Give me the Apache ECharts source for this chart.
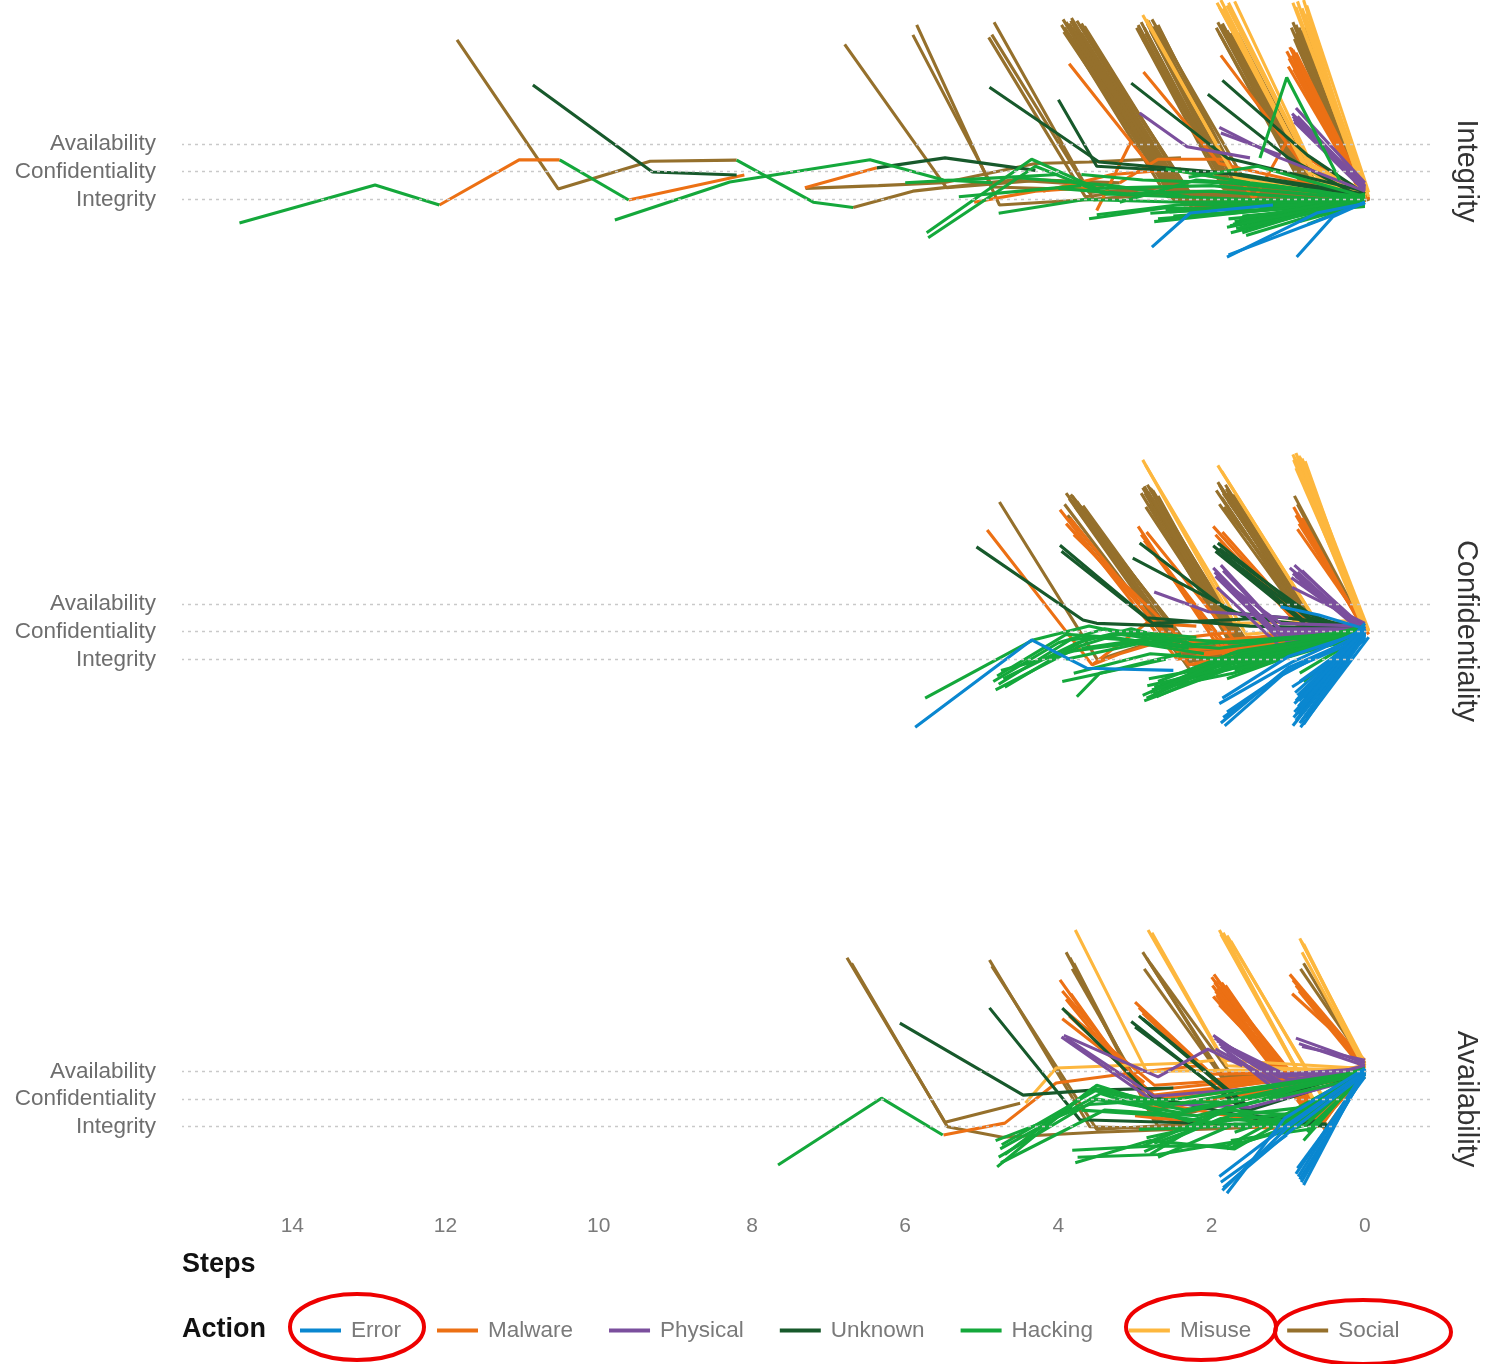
<!DOCTYPE html>
<html><head><meta charset="utf-8">
<script src="https://cdn.jsdelivr.net/npm/echarts@6/dist/echarts.min.js"></script>
<style>html,body{margin:0;padding:0;background:#fff}#c{width:1498px;height:1364px}</style>
</head><body><div id="c"></div>
<script>
// ---------- labels ----------
const stepTicks = [0, 2, 4, 6, 8, 10, 12, 14];
const levelValues = [1, 2, 3];
const levelLabels = ['Integrity', 'Confidentiality', 'Availability'];
const panelTitles = ['Integrity', 'Confidentiality', 'Availability'];
const actions = ['Error', 'Malware', 'Physical', 'Unknown', 'Hacking', 'Misuse', 'Social'];

// ---------- data: each path = [step, value, step, value, ...] ----------
// Panel: Integrity
const intSocial = [
 [11.85,6.76, 10.53,1.38, 9.33,2.38, 8.2,2.42],
 [7.3,1.4, 6.35,1.5, 5.5,1.6, 4.3,2.3, 3.6,2.35, 2.4,2.5],
 [6.68,0.71, 5.9,1.3, 4.6,1.7, 3.4,1.5],
 [6.79,6.6, 5.46,1.42, 4.2,1.7, 3.2,1.6],
 [5.85,7.3, 4.77,0.8, 3.6,1.0, 2.6,1.2],
 [5.9,6.94, 4.86,1.45, 3.46,1.34],
 [4.84,7.4, 3.54,0.98, 2.5,1.3],
 [4.91,6.85, 3.65,1.1, 2.6,1.45],
 [4.87,6.95, 3.6,1.25, 2.3,1.5],
 [3.94,7.5, 2.55,1.2, 1.2,1.3, 0,1.0],
 [3.9,7.4, 2.5,1.1, 1.3,1.2, 0,1.05],
 [3.86,7.35, 2.45,0.95, 0,0.95],
 [3.82,7.2, 2.4,0.9, 0,1.1],
 [3.78,7.3, 2.36,0.8, 0,0.9],
 [3.74,7.1, 2.3,0.85, 0,1.0],
 [3.7,7.0, 2.26,0.7, 0,0.85],
 [3.66,7.25, 2.2,0.75, 0,1.15],
 [3.88,7.0, 2.45,1.3, 0,1.2],
 [3.8,6.9, 2.35,1.0, 0,0.8],
 [3.76,7.45, 2.32,1.05, 0,1.0],
 [3.72,6.8, 2.28,0.9, 0,0.95],
 [3.92,7.2, 2.5,1.0, 0,1.05],
 [3.84,7.45, 2.42,1.15, 0,0.9],
 [3.68,7.15, 2.22,0.95, 0,1.1],
 [3.74,6.95, 2.34,1.2, 0,1.0],
 [3.96,7.3, 2.58,1.1, 0,1.0],
 [3.93,7.05, 2.52,1.25, 0,1.1],
 [3.83,7.55, 2.38,0.85, 0,0.95],
 [3.79,7.05, 2.37,1.1, 0,1.05],
 [3.7,7.35, 2.24,0.9, 0,1.0],
 [3.64,7.0, 2.18,0.8, 0,0.9],
 [2.96,7.3, 1.83,1.5, 0,1.1],
 [2.92,7.4, 1.8,1.4, 0,1.0],
 [2.88,7.2, 1.75,1.3, 0,1.15],
 [2.84,7.35, 1.72,1.2, 0,0.95],
 [2.8,7.1, 1.68,1.1, 0,1.05],
 [2.76,7.25, 1.65,1.0, 0,0.9],
 [2.72,7.0, 1.6,1.05, 0,1.2],
 [2.68,6.9, 1.57,0.95, 0,1.0],
 [2.78,7.5, 1.5,1.35, 0,1.1],
 [2.9,6.8, 1.7,1.25, 0,1.0],
 [2.94,7.1, 1.78,1.35, 0,1.05],
 [2.86,7.0, 1.74,1.15, 0,0.95],
 [2.74,7.15, 1.62,1.25, 0,1.1],
 [2.7,7.3, 1.59,1.1, 0,1.0],
 [2.98,7.2, 1.85,1.4, 0,1.05],
 [2.83,7.45, 1.7,1.3, 0,1.0],
 [2.73,6.85, 1.58,1.0, 0,1.1],
 [2.66,7.05, 1.55,1.15, 0,0.95],
 [1.92,7.4, 0.8,1.6, 0,1.0],
 [1.88,7.3, 0.78,1.4, 0,0.9],
 [1.84,7.2, 0.75,1.7, 0,1.1],
 [1.8,7.1, 0.7,1.5, 0,1.0],
 [1.76,7.0, 0.68,1.3, 0,0.95],
 [1.72,6.9, 0.65,1.45, 0,1.05],
 [1.68,6.8, 0.62,1.2, 0,1.0],
 [1.64,6.7, 0.6,1.35, 0,1.1],
 [1.9,7.0, 0.79,1.5, 0,1.05],
 [1.82,6.95, 0.72,1.25, 0,0.95],
 [1.74,7.25, 0.66,1.55, 0,1.0],
 [1.66,7.0, 0.61,1.4, 0,1.1],
 [1.94,7.2, 0.82,1.5, 0,1.0],
 [1.86,7.35, 0.77,1.6, 0,1.05],
 [1.78,6.85, 0.69,1.35, 0,1.0],
 [1.7,7.1, 0.64,1.5, 0,1.1],
 [0.94,7.4, 0,1.1],
 [0.9,7.3, 0,1.0],
 [0.86,7.2, -0.05,0.95],
 [0.84,7.0, 0,1.15],
 [0.8,6.9, 0,1.05],
 [0.92,6.8, 0,0.9],
 [0.88,6.6, 0,1.0],
 [0.82,7.1, 0,1.2],
 [0.96,7.2, 0,1.05],
 [0.9,7.0, 0,0.95],
 [0.86,6.8, 0,1.1],
 [0.78,7.2, -0.05,1.0]
];
const intMisuse = [
 [2.9,7.66, 1.65,1.6, 0,1.1],
 [2.85,7.5, 1.7,1.8, 0,1.0],
 [1.93,8.1, 0.8,2.4, 0,1.3],
 [1.88,8.2, 0.75,2.0, 0,1.2],
 [1.85,7.9, 0.7,1.8, 0,1.0],
 [1.8,8.0, 0.72,2.2, 0,1.15],
 [1.75,7.8, 0.65,1.9, 0,1.05],
 [1.7,8.15, 0.6,1.7, 0,1.1],
 [1.9,7.95, 0.77,2.1, 0,1.2],
 [1.78,8.1, 0.68,2.0, 0,1.1],
 [0.94,8.1, 0,1.3],
 [0.88,8.15, 0,1.2],
 [0.82,7.9, -0.05,1.1],
 [0.78,7.7, 0,1.0],
 [0.76,8.0, -0.05,1.25],
 [0.9,7.95, 0,1.15],
 [0.8,8.2, 0,1.05]
];
const intMalware = [
 [12.08,0.8, 11.04,2.43, 10.51,2.43],
 [9.61,0.98, 8.1,1.88],
 [7.31,1.42, 6.37,2.14],
 [5.1,0.9, 4.3,1.3, 3.5,1.45],
 [4.2,1.3, 3.3,1.9, 2.4,2.1],
 [3.86,5.9, 2.8,2.2, 1.5,1.6, 0,1.0],
 [2.89,5.6, 1.9,2.3, 0,1.1],
 [1.88,6.2, 0.85,2.4, 0,1.0],
 [3.2,1.6, 2.7,2.45, 1.8,2.45, 1.45,1.0, 1.03,3.05, 0,1.1],
 [3.5,0.6, 3.05,3.1],
 [1.02,6.35, 0,1.0],
 [0.98,6.5, 0,1.1],
 [0.95,6.2, 0,0.95],
 [0.92,6.0, 0,1.05],
 [0.9,6.3, -0.05,1.0],
 [0.86,5.9, 0,0.9],
 [1.0,5.8, 0,1.1],
 [0.88,6.1, 0,1.2],
 [0.96,6.45, 0,1.0],
 [0.93,5.7, 0,1.05],
 [0.99,6.1, 0,1.0],
 [0.94,6.4, 0,1.1],
 [0.91,5.85, 0,0.95]
];
const intPhysical = [
 [0.95,4.1, 0,1.5],
 [0.93,3.9, 0,1.4],
 [0.9,4.3, 0,1.6],
 [0.92,3.8, 0,1.3],
 [0.88,4.0, 0,1.45],
 [0.94,4.0, 0,1.45],
 [0.91,3.85, 0,1.35],
 [2.94,4.12, 2.32,2.9, 1.5,2.5],
 [1.9,3.6, 1.11,2.5, 0,1.3],
 [1.88,3.4, 1.1,2.6]
];
const intUnknown = [
 [10.86,5.13, 9.3,1.99, 8.2,1.88],
 [6.37,2.14, 5.48,2.5, 4.3,2.05],
 [4.9,5.05, 3.47,2.35, 1.8,1.95, 0,1.1],
 [4.0,4.6, 3.5,2.2, 1.6,1.9, 0,1.2],
 [3.05,5.2, 1.8,2.5, 0,1.3],
 [2.05,4.8, 1.0,2.5, 0,1.0],
 [1.86,5.3, 0.75,2.6, 0,1.2]
];
const intHacking = [
 [14.69,0.15, 12.92,1.52, 12.08,0.8],
 [10.51,2.43, 9.61,0.98],
 [9.79,0.26, 8.29,1.63, 6.46,2.43, 5.5,1.7, 4.86,1.6],
 [8.2,2.42, 7.2,0.9, 6.68,0.71],
 [6.0,1.6, 5.0,1.75, 4.0,1.9],
 [5.3,1.1, 4.5,1.3, 3.7,1.5],
 [5.72,-0.2, 4.35,2.45, 3.5,1.4, 2.0,1.5, 0,1.0],
 [5.7,-0.38, 4.3,2.2, 3.4,1.2, 1.5,1.0, 0,0.95],
 [4.78,0.5, 3.66,1.0, 2.4,0.9, 0,1.0],
 [3.7,1.9, 2.9,1.7, 1.8,1.6, 0,1.1],
 [4.0,1.4, 3.1,1.2, 2.0,1.3, 0,0.9],
 [3.2,0.9, 2.2,1.7, 1.2,1.5, 0,1.0],
 [4.6,1.8, 3.3,1.5, 2.3,1.1],
 [2.6,2.1, 1.5,1.6, 0.6,1.3, 0,1.0],
 [2.3,1.8, 1.4,2.2, 0,1.1],
 [1.37,2.5, 1.02,5.4, 0.33,1.7],
 [3.6,0.3, 2.6,0.7, 1.5,0.6, 0,1.0],
 [3.5,0.45, 2.45,0.8, 0,0.9],
 [2.8,0.5, 0,1.0],
 [2.7,0.3, 0,0.9],
 [2.6,0.6, 0,1.05],
 [2.5,0.4, 0,0.85],
 [2.75,0.2, 0,1.0],
 [2.55,0.55, 0,0.95],
 [1.8,0.0, 0,0.95],
 [1.75,-0.2, 0,1.0],
 [1.7,0.2, 0,0.9],
 [1.65,-0.1, 0,1.1],
 [1.6,0.4, 0,0.8],
 [1.55,-0.3, 0,1.0],
 [1.72,0.1, 0,1.2],
 [1.78,0.3, 0,0.75],
 [1.62,0.0, 0,0.95],
 [1.58,0.2, 0,1.05],
 [1.76,0.05, 0,1.0],
 [1.68,-0.05, 0,0.9],
 [1.64,0.3, 0,1.05],
 [1.6,-0.2, 0,1.15],
 [0.8,0.3, 0,1.0],
 [0.75,0.1, 0,0.9],
 [0.7,0.5, 0,1.1],
 [0.85,0.2, 0,0.85]
];
const intError = [
 [2.78,-0.72, 2.28,0.51, 1.2,0.8],
 [1.8,-1.08, 0.63,0.51, 0,0.85],
 [1.78,-1.0, 0.35,0.5, 0,0.9],
 [0.89,-1.08, 0.42,0.37, 0,0.9]
];

// Panel: Confidentiality
const confSocial = [
 [4.77,6.68, 3.49,0.98, 2.8,1.6, 1.8,1.3],
 [3.9,7.0, 2.4,1.2, 1.2,1.6, 0,2.0],
 [3.86,6.8, 2.35,0.9, 0,1.9],
 [3.82,6.9, 2.3,1.4, 0,2.1],
 [3.78,6.5, 2.25,0.8, 0,1.8],
 [3.74,6.6, 2.2,1.1, 0,2.0],
 [3.7,6.3, 2.28,0.6, 0,2.2],
 [3.88,6.2, 2.38,1.0, 0,2.0],
 [3.84,6.95, 2.33,1.05, 0,2.0],
 [3.76,6.7, 2.27,0.95, 0,1.9],
 [3.72,6.45, 2.24,1.3, 0,2.1],
 [3.92,6.6, 2.42,1.1, 0,2.0],
 [3.8,6.75, 2.3,1.0, 0,2.05],
 [3.68,6.55, 2.2,0.9, 0,1.95],
 [2.9,7.2, 1.6,1.2, 0,2.0],
 [2.87,7.0, 1.58,1.0, 0,2.1],
 [2.84,7.3, 1.56,1.5, 0,1.9],
 [2.8,6.9, 1.54,0.7, 0,2.0],
 [2.77,7.1, 1.52,1.3, 0,2.2],
 [2.74,6.7, 1.5,0.9, 0,1.8],
 [2.82,6.6, 1.55,0.6, 0,2.0],
 [2.78,6.8, 1.53,1.6, 0,2.1],
 [2.86,6.5, 1.57,1.1, 0,2.0],
 [2.88,7.25, 1.59,1.3, 0,2.05],
 [2.83,7.05, 1.56,0.8, 0,1.95],
 [2.79,7.15, 1.54,1.0, 0,2.1],
 [2.75,6.9, 1.51,1.4, 0,2.0],
 [2.72,6.6, 1.5,1.15, 0,1.9],
 [2.92,7.0, 1.62,1.1, 0,2.0],
 [2.81,7.2, 1.55,1.2, 0,2.05],
 [2.76,6.75, 1.52,1.05, 0,1.95],
 [2.7,6.9, 1.49,0.8, 0,2.0],
 [1.92,7.4, 0.65,2.0, 0,2.0],
 [1.88,7.2, 0.62,1.8, 0,2.1],
 [1.85,7.0, 0.6,1.9, 0,1.9],
 [1.82,7.3, 0.58,1.7, 0,2.0],
 [1.79,6.8, 0.55,1.6, 0,2.2],
 [1.76,6.9, 0.52,1.85, 0,2.0],
 [1.9,6.6, 0.63,1.75, 0,1.9],
 [1.84,6.5, 0.57,1.95, 0,2.1],
 [1.9,7.3, 0.64,1.9, 0,2.05],
 [1.86,7.1, 0.6,1.8, 0,1.95],
 [1.8,7.0, 0.56,1.7, 0,2.1],
 [1.78,6.7, 0.54,1.9, 0,2.0],
 [1.74,6.8, 0.5,1.8, 0,2.0],
 [1.94,7.1, 0.66,1.85, 0,2.0],
 [1.87,6.85, 0.61,1.7, 0,2.05],
 [1.81,7.15, 0.57,1.9, 0,1.95],
 [1.72,6.95, 0.5,1.75, 0,2.0],
 [0.92,6.9, 0,2.1],
 [0.88,6.6, 0,2.0]
];
const confMisuse = [
 [2.9,8.2, 1.7,2.3, 0,2.4],
 [2.86,8.0, 1.55,1.9, 0,2.3],
 [1.92,8.0, 0.6,2.2, 0,2.2],
 [1.87,7.8, 0.55,2.0, 0,2.1],
 [0.94,8.4, 0,2.3],
 [0.92,8.3, 0,2.2],
 [0.9,8.45, 0,2.1],
 [0.88,8.2, -0.05,2.0],
 [0.86,8.35, 0,2.25],
 [0.84,8.1, 0,2.15],
 [0.82,8.25, -0.05,2.05],
 [0.8,8.0, 0,2.3],
 [0.78,8.15, 0,2.1],
 [0.9,7.9, 0,2.2],
 [0.86,7.8, 0,2.0],
 [0.93,8.2, 0,2.2],
 [0.89,8.1, 0,2.15],
 [0.85,8.3, 0,2.25],
 [0.81,8.05, 0,2.1],
 [0.79,7.9, 0,2.0]
];
const confMalware = [
 [4.93,5.67, 3.56,0.8, 3.2,1.2],
 [3.56,0.8, 2.85,2.3, 2.2,2.2],
 [3.98,6.4, 2.45,1.0, 0,2.0],
 [3.9,5.9, 2.4,1.3, 0,1.9],
 [3.8,5.5, 2.35,1.6, 0,2.1],
 [3.85,6.1, 2.3,0.8, 0,2.0],
 [2.96,5.8, 1.8,1.0, 0,2.0],
 [2.92,5.5, 1.75,1.3, 0,1.9],
 [2.88,5.3, 1.7,0.9, 0,2.1],
 [2.85,5.6, 1.68,1.6, 0,2.0],
 [1.98,5.8, 0.65,1.7, 0,2.0],
 [1.95,5.5, 0.62,1.5, 0,1.9],
 [1.9,5.2, 0.6,1.9, 0,2.1],
 [1.86,5.6, 0.58,1.6, 0,2.0],
 [1.82,5.0, 0.55,1.8, 0,2.0],
 [0.93,6.5, 0,2.0],
 [0.9,6.2, 0,2.1],
 [0.86,5.9, -0.05,1.9],
 [0.82,6.1, 0,2.0],
 [0.88,5.7, 0,2.2],
 [2.5,1.4, 1.5,1.8, 0.7,1.6, 0,2.0],
 [2.2,1.2, 1.3,1.5, 0,1.9],
 [1.6,1.6, 0.6,2.4, 0,2.0],
 [3.2,1.2, 2.6,1.7, 1.7,2.0]
];
const confPhysical = [
 [2.75,3.43, 2.04,2.72, 1.0,2.5],
 [1.98,4.3, 1.2,2.1, 0,2.1],
 [1.95,4.0, 1.15,1.8, 0,2.0],
 [1.9,3.9, 1.1,2.3, 0,2.2],
 [1.85,4.2, 1.05,1.9, 0,1.9],
 [1.8,3.7, 1.0,1.6, 0,2.0],
 [1.93,3.6, 1.12,1.5, 0,2.1],
 [1.88,4.4, 1.08,2.0, 0,2.0],
 [1.96,4.15, 1.17,1.95, 0,2.05],
 [1.87,3.8, 1.06,1.75, 0,2.0],
 [0.98,4.3, 0,2.0],
 [0.94,4.1, 0,2.1],
 [0.9,4.0, 0,1.9],
 [0.86,3.8, 0,2.2],
 [0.82,4.2, 0,2.0],
 [0.95,3.6, 0,2.3],
 [0.92,4.4, 0,2.1],
 [0.96,3.95, 0,2.05],
 [0.88,4.15, 0,1.95],
 [0.84,3.9, 0,2.1]
];
const confUnknown = [
 [5.07,5.06, 3.68,2.42, 3.5,2.3, 2.5,2.2],
 [3.98,5.12, 2.85,2.5, 1.5,2.2, 0,2.1],
 [3.96,4.9, 2.77,2.3, 1.2,2.5],
 [2.94,5.2, 1.76,2.7, 0,2.2],
 [3.03,4.65, 1.55,2.5, 0,2.0],
 [1.98,5.1, 0.8,2.4, 0,2.0],
 [1.95,4.9, 0.75,2.2, 0,2.1],
 [1.9,5.0, 0.7,2.6, 0,1.9],
 [1.86,4.8, 0.65,2.3, 0,2.0],
 [1.92,5.2, 0.72,2.5, 0,2.05]
];
const confHacking = [
 [5.74,-0.4, 4.33,1.7, 3.6,2.2, 2.4,1.5, 0,2.0],
 [4.85,0.2, 4.0,1.6, 3.4,2.1, 2.4,1.7],
 [4.8,0.4, 3.9,1.9, 3.3,1.8, 2.3,1.4],
 [4.82,-0.1, 3.7,1.5, 3.1,2.0, 2.2,1.8],
 [4.75,0.6, 3.8,1.3, 3.0,1.6, 2.1,1.2],
 [4.7,0.0, 3.6,1.8, 2.6,1.6],
 [4.78,0.1, 3.85,1.7, 3.2,1.9, 2.3,1.6],
 [4.72,0.3, 3.75,1.6, 3.05,2.1, 2.2,1.5],
 [3.76,-0.35, 3.46,0.5, 2.4,1.2],
 [2.85,-0.4, 1.8,0.9, 0,1.9],
 [2.8,-0.2, 1.75,1.2, 0,2.0],
 [2.75,0.0, 1.7,0.7, 0,1.8],
 [2.9,-0.3, 1.85,1.0, 0,2.1],
 [2.7,0.2, 1.65,1.3, 0,2.0],
 [2.78,-0.1, 1.72,0.5, 0,1.9],
 [2.65,0.1, 1.6,1.1, 0,2.2],
 [2.82,0.3, 1.8,0.8, 0,1.8],
 [2.88,-0.5, 1.82,0.6, 0,2.0],
 [2.72,-0.35, 1.68,0.9, 0,1.9],
 [2.76,-0.25, 1.7,1.0, 0,2.0],
 [2.84,0.05, 1.78,0.7, 0,1.9],
 [2.68,-0.05, 1.62,1.2, 0,2.1],
 [3.8,0.5, 2.8,1.2, 1.8,1.0, 0,2.0],
 [3.9,1.0, 2.9,1.6, 1.9,1.4, 0,2.1],
 [3.7,1.4, 2.7,1.8, 1.7,1.6, 0,1.9],
 [3.95,0.2, 2.6,1.0],
 [1.8,0.3, 0.9,1.2, 0,2.0],
 [1.7,0.6, 0.8,1.4, 0,1.9],
 [0.8,0.2, 0,2.0],
 [0.85,0.5, 0,1.9],
 [0.75,0.0, 0,2.1]
];
const confError = [
 [5.87,-1.45, 4.35,1.7, 4.09,1.33, 3.63,0.68, 2.5,0.6],
 [1.1,2.9, 0.6,2.6, 0,2.1],
 [1.88,-1.3, 1.0,0.7, 0,1.9],
 [1.85,-1.1, 1.1,0.4, 0,2.0],
 [1.8,-0.9, 1.0,0.6, 0,1.8],
 [1.9,-0.6, 0.95,0.9, 0,2.1],
 [1.83,-1.4, 1.05,0.5],
 [1.86,-0.4, 1.0,1.1, 0,2.0],
 [0.94,-1.4, 0,1.9],
 [0.9,-1.2, 0,2.0],
 [0.86,-1.0, 0,1.8],
 [0.82,-0.8, 0,2.1],
 [0.92,-0.6, 0,1.9],
 [0.88,-0.3, 0,2.0],
 [0.84,-1.45, -0.05,1.8],
 [0.8,-0.4, 0,2.2],
 [0.95,0.0, 0,1.7],
 [0.78,-1.1, 0,2.0],
 [0.9,-0.5, 0,2.3],
 [0.85,0.2, 0,1.9],
 [0.92,-0.9, 0,1.85],
 [0.87,-0.7, 0,2.05],
 [0.83,-1.25, 0,1.95],
 [0.79,-0.6, 0,2.1],
 [0.93,-1.1, 0,1.95],
 [0.89,-0.85, 0,2.0],
 [0.85,-1.3, 0,1.9],
 [0.81,-0.95, 0,2.05],
 [0.91,-0.2, 0,2.0],
 [0.86,-0.5, 0,2.1],
 [0.8,-1.35, 0,1.85]
];

// Panel: Availability
const availSocial = [
 [6.76,7.1, 5.48,1.16, 4.5,1.85],
 [6.7,6.9, 5.45,1.0, 4.73,0.62, 3.5,0.8, 2.5,0.9],
 [4.9,7.02, 3.59,1.0, 2.2,0.9, 1.2,1.0],
 [4.87,6.8, 3.5,0.9, 2.3,1.1],
 [3.9,7.3, 2.8,1.6, 0,2.9],
 [3.85,7.1, 2.75,1.2, 0,3.0],
 [3.8,6.9, 2.7,1.0, 2.0,1.0],
 [3.82,6.7, 2.72,1.4],
 [2.9,7.3, 1.85,2.8, 0,3.0],
 [2.85,7.1, 1.8,2.5, 0,3.1],
 [2.8,6.9, 1.75,2.9],
 [2.88,6.7, 1.82,2.6],
 [0.8,6.9, 0,3.2],
 [0.84,6.7, 0,3.3]
];
const availMisuse = [
 [4.43,1.86, 4.03,3.12, 2.31,3.3, 1.97,3.4],
 [3.78,8.1, 2.85,3.0, 0,3.1],
 [2.83,8.1, 1.85,3.4, 0,3.1],
 [2.78,8.0, 1.8,3.2, 0,3.0],
 [1.9,8.1, 0.65,1.9, 0,3.0],
 [1.85,8.0, 0.6,1.6, 0,3.1],
 [1.8,7.9, 0.55,2.1, 0,2.9],
 [1.75,7.7, 0.5,1.8],
 [1.88,7.95, 0.62,1.7, 0,3.05],
 [0.85,7.8, 0,3.3],
 [0.8,7.6, 0,3.2],
 [0.82,7.3, 0,3.1],
 [0.83,7.7, 0,3.2]
];
const availMalware = [
 [5.5,0.7, 4.7,1.13, 4.03,2.58, 3.03,2.95, 2.17,3.2],
 [3.98,6.3, 2.9,2.1, 0,3.0],
 [3.95,5.9, 2.85,2.3, 0,3.1],
 [3.9,5.6, 2.8,1.9, 0,2.9],
 [3.92,5.2, 2.75,2.5, 0,3.0],
 [3.86,5.0, 2.7,2.0, 0,3.2],
 [3.84,5.8, 2.78,1.7, 0,2.8],
 [3.95,4.9, 2.88,2.6],
 [3.0,5.5, 2.0,2.9, 0,3.0],
 [2.95,5.3, 1.95,2.7, 0,3.1],
 [2.9,5.1, 1.9,2.5, 0,2.9],
 [2.0,6.4, 0.7,1.5, 0,3.0],
 [1.96,6.2, 0.65,1.2, 0,3.1],
 [1.92,6.0, 0.62,1.0, 0,2.9],
 [1.88,5.8, 0.6,1.4, 0,3.0],
 [1.85,5.6, 0.55,1.1, 0,3.2],
 [1.9,5.4, 0.58,1.6, 0,2.8],
 [1.95,5.9, 0.66,1.3, 0,3.0],
 [1.82,6.1, 0.52,0.9, 0,2.9],
 [1.98,5.7, 0.7,1.8, 0,3.1],
 [1.93,6.3, 0.6,1.7, 0,3.0],
 [1.87,6.2, 0.63,1.25, 0,3.05],
 [1.91,5.5, 0.57,1.45, 0,2.95],
 [1.99,6.1, 0.68,1.35, 0,3.0],
 [1.94,5.75, 0.64,1.1, 0,3.05],
 [1.89,6.05, 0.59,1.5, 0,2.95],
 [1.84,5.5, 0.54,1.2, 0,3.1],
 [1.97,6.5, 0.69,1.65, 0,3.0],
 [0.98,6.5, 0,3.3],
 [0.94,6.3, 0,3.2],
 [0.9,6.1, 0,3.1],
 [0.86,5.9, 0,3.0],
 [0.95,5.8, 0,3.4],
 [3.0,1.4, 2.0,1.1, 1.0,0.9, 0,2.9],
 [2.6,1.8, 1.6,1.3, 0.5,1.1]
];
const availPhysical = [
 [3.96,4.24, 2.72,1.85, 1.5,1.7, 0,2.8],
 [3.9,4.2, 2.75,2.1, 1.4,2.4, 0,3.0],
 [3.93,4.3, 2.7,2.8, 2.05,3.8, 1.6,3.2],
 [1.98,4.3, 1.1,2.6, 0,3.0],
 [1.93,4.1, 1.05,2.9, 0,3.1],
 [1.88,3.9, 1.15,2.3, 0,2.9],
 [1.85,4.0, 1.0,2.7, 0,3.0],
 [1.8,3.7, 1.1,2.4],
 [1.95,3.8, 1.08,2.5, 0,3.2],
 [1.96,4.2, 1.12,2.8, 0,3.05],
 [1.9,4.0, 1.03,2.5, 0,3.1],
 [0.9,4.2, 0,3.3],
 [0.86,4.0, 0,3.2],
 [0.82,3.9, 0,3.4]
];
const availUnknown = [
 [6.07,4.74, 4.46,2.14, 3.55,2.32, 2.5,2.4],
 [4.9,5.29, 3.72,1.25, 1.8,1.1, 0.45,1.05],
 [3.95,5.28, 2.77,2.07, 1.6,1.4, 0.5,1.0],
 [3.05,4.8, 1.4,1.2, 0.5,1.1],
 [3.0,4.6, 1.45,1.4, 0.6,1.2],
 [2.95,5.0, 1.5,1.6, 0,2.9],
 [2.9,4.9, 1.55,1.8, 0,3.0]
];
const availHacking = [
 [7.66,-0.38, 6.31,2.03, 5.51,0.7],
 [4.8,-0.45, 3.55,2.4, 2.5,1.8, 0,3.0],
 [4.78,-0.1, 3.5,2.0, 2.4,1.5, 0,2.9],
 [4.76,0.2, 3.45,2.2, 2.3,1.2, 0,3.1],
 [4.82,0.5, 3.6,1.8, 2.45,2.0, 0,3.0],
 [4.75,-0.3, 3.4,1.6, 2.2,1.4, 0,2.8],
 [4.7,0.0, 3.5,2.5, 2.6,1.7],
 [4.74,0.35, 3.52,2.3, 2.35,1.6, 0,3.0],
 [3.82,0.15, 2.8,0.3, 1.8,0.3, 0,3.0],
 [3.78,-0.3, 2.8,0.5, 1.7,0.2, 0,2.9],
 [3.75,-0.1, 2.7,0.0, 1.6,0.5],
 [3.7,1.6, 2.6,1.4, 1.6,1.0, 0.7,1.3, 0,3.0],
 [3.6,2.0, 2.9,1.8, 1.9,1.9],
 [2.9,0.3, 1.9,1.5, 1.0,1.2, 0,3.0],
 [2.85,0.6, 1.85,1.2, 0.9,1.5, 0,2.9],
 [2.8,0.0, 1.8,1.7, 0.95,0.9, 0,3.1],
 [2.95,0.9, 1.95,1.0, 0.85,1.3, 0,2.8],
 [2.75,0.4, 1.75,1.4, 0.8,1.7, 0,3.0],
 [2.7,-0.1, 1.7,1.1, 0.9,1.0],
 [2.88,0.1, 1.88,1.3, 0.95,1.1, 0,3.0],
 [2.78,0.5, 1.78,1.6, 0.85,1.4, 0,3.05],
 [1.8,0.2, 0.8,1.2, 0,3.0],
 [1.75,0.5, 0.75,0.9, 0,2.9],
 [1.7,0.8, 0.85,1.6, 0,3.1],
 [1.72,0.35, 0.78,1.05, 0,3.0],
 [0.8,0.5, 0,3.0],
 [0.75,0.8, 0,2.9],
 [0.85,1.1, 0,3.1]
];
const availError = [
 [1.9,-0.8, 1.0,1.1, 0,3.0],
 [1.85,-1.2, 0.95,0.9, 0,2.9],
 [1.8,-1.4, 1.05,1.3, 0,3.1],
 [1.88,-1.0, 1.02,0.7],
 [1.86,-1.3, 1.0,1.0, 0,3.0],
 [0.9,-0.7, 0,3.0],
 [0.85,-0.9, 0,2.9],
 [0.8,-1.1, 0,3.1],
 [0.88,-0.5, 0,2.8],
 [0.87,-0.8, 0,3.05],
 [0.83,-1.0, 0,2.95]
];

// ---------- build ----------
const actionColors = {
  Error: '#0a87d0', Malware: '#ec7014', Physical: '#7b4f9d', Unknown: '#17592b',
  Hacking: '#14a83b', Misuse: '#fdb73e', Social: '#95702c'
};
const panels = [
  {Social: intSocial, Misuse: intMisuse, Malware: intMalware, Unknown: intUnknown, Physical: intPhysical, Hacking: intHacking, Error: intError},
  {Social: confSocial, Misuse: confMisuse, Malware: confMalware, Unknown: confUnknown, Physical: confPhysical, Hacking: confHacking, Error: confError},
  {Social: availSocial, Misuse: availMisuse, Malware: availMalware, Unknown: availUnknown, Physical: availPhysical, Hacking: availHacking, Error: availError}
];
const drawOrder = ['Social', 'Malware', 'Misuse', 'Unknown', 'Physical', 'Hacking', 'Error'];

const gridDefs = [
  {top: 0, height: 296.4, yMin: -2.5, yMax: 8.2, titleY: 171},
  {top: 448.8, height: 307.5, yMin: -2.5, yMax: 8.6, titleY: 631},
  {top: 916.2, height: 288.1, yMin: -1.8, yMax: 8.6, titleY: 1099}
];
const FONT = '"Liberation Sans", Arial, sans-serif';

const grid = [], xAxis = [], yAxis = [], series = [];
gridDefs.forEach((g, i) => {
  grid.push({left: 182, right: 68, top: g.top, height: g.height});
  xAxis.push({
    type: 'value', gridIndex: i, min: -0.85, max: 15.44, inverse: true,
    axisLine: {show: false}, axisTick: {show: false}, splitLine: {show: false},
    axisLabel: {show: i === 2, customValues: stepTicks, fontSize: 21, color: '#7a7a7a', fontFamily: FONT, margin: 11}
  });
  yAxis.push({
    type: 'value', gridIndex: i, min: g.yMin, max: g.yMax,
    axisLine: {show: false}, axisTick: {show: false}, splitLine: {show: false},
    axisLabel: {customValues: levelValues, fontSize: 22.5, color: '#6e6e6e', fontFamily: FONT, margin: 26,
      formatter: v => levelLabels[Math.round(v) - 1] || ''}
  });
  series.push({
    type: 'line', xAxisIndex: i, yAxisIndex: i, data: [[-5, -5]], showSymbol: false, silent: true,
    lineStyle: {width: 0},
    markLine: {silent: true, symbol: ['none', 'none'], label: {show: false},
      lineStyle: {color: '#c9c9c9', type: [3, 4], width: 1.3},
      data: levelValues.map(v => ({yAxis: v}))}
  });
  drawOrder.forEach(a => {
    panels[i][a].forEach(path => {
      const pts = [];
      for (let k = 0; k < path.length; k += 2) pts.push([path[k], path[k + 1]]);
      series.push({
        name: a, type: 'line', xAxisIndex: i, yAxisIndex: i, data: pts,
        showSymbol: false, symbol: 'none', color: actionColors[a],
        lineStyle: {width: 3.1, color: actionColors[a]}, silent: true
      });
    });
  });
});

const graphic = [];
gridDefs.forEach((g, i) => {
  graphic.push({type: 'text', x: 1466, y: g.titleY, rotation: -Math.PI / 2,
    style: {text: panelTitles[i], fontSize: 29, fontFamily: FONT, fill: '#333', align: 'center', verticalAlign: 'middle'}});
});
graphic.push({type: 'text', x: 182, y: 1265, style: {text: 'Steps', fontSize: 27, fontWeight: 'bold', fontFamily: FONT, fill: '#111', align: 'left', verticalAlign: 'middle'}});
graphic.push({type: 'text', x: 182, y: 1330, style: {text: 'Action', fontSize: 27, fontWeight: 'bold', fontFamily: FONT, fill: '#111', align: 'left', verticalAlign: 'middle'}});
[[357, 1327, 67, 33], [1201, 1327, 75, 33], [1363, 1332, 88, 32]].forEach(e => {
  graphic.push({type: 'ellipse', shape: {cx: e[0], cy: e[1], rx: e[2], ry: e[3]},
    style: {fill: 'none', stroke: '#ee0000', lineWidth: 4}, z: 100});
});

const chart = echarts.init(document.getElementById('c'), null, {renderer: 'canvas'});
chart.setOption({
  animation: false,
  backgroundColor: '#fff',
  grid, xAxis, yAxis, series, graphic,
  legend: {
    data: actions.map(a => ({name: a, itemStyle: {color: actionColors[a]}})),
    left: 300, top: 1319, padding: 0, icon: 'rect', itemWidth: 41, itemHeight: 4, itemGap: 36,
    textStyle: {fontSize: 22.5, color: '#7a7a7a', fontFamily: FONT, padding: [0, 0, 0, 5]},
    selectedMode: false
  }
});
</script></body></html>
